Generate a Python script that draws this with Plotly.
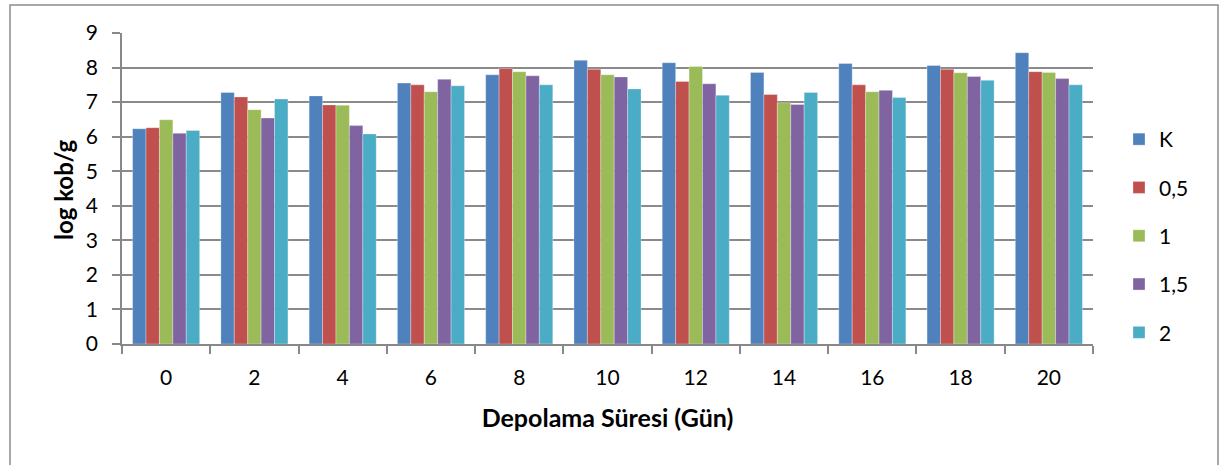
import plotly.graph_objects as go

days = ["0", "2", "4", "6", "8", "10", "12", "14", "16", "18", "20"]
series_names = ["K", "0,5", "1", "1,5", "2"]
K = [6.23, 7.28, 7.18, 7.55, 7.79, 8.21, 8.14, 7.86, 8.12, 8.06, 8.43]
c05 = [6.26, 7.15, 6.92, 7.50, 7.97, 7.95, 7.60, 7.22, 7.50, 7.95, 7.88]
c1 = [6.49, 6.78, 6.91, 7.30, 7.88, 7.79, 8.03, 6.98, 7.30, 7.85, 7.86]
c15 = [6.10, 6.54, 6.32, 7.66, 7.76, 7.73, 7.53, 6.93, 7.34, 7.74, 7.68]
c2 = [6.18, 7.09, 6.08, 7.47, 7.50, 7.38, 7.20, 7.28, 7.13, 7.63, 7.50]
values = [K, c05, c1, c15, c2]
colors = ["#4F81BD", "#C0504D", "#9BBB59", "#8064A2", "#4BACC6"]

FONT = "Lato"

fig = go.Figure()
for name, vals, col in zip(series_names, values, colors):
    fig.add_trace(go.Bar(
        x=days, y=vals, name=name, legendgroup=name,
        marker=dict(color=col, line=dict(color="rgba(255,255,255,0.6)", width=0.5)),
    ))

W, H = 1229, 465
L, R, T, B = 122, 136, 33, 121
pw, ph = W - L - R, H - T - B

def px_x(x):
    return (x - L) / pw

def px_y(y):
    return (H - B - y) / ph

fig.update_layout(
    width=W, height=H,
    margin=dict(l=L, r=R, t=T, b=B),
    paper_bgcolor="white", plot_bgcolor="white",
    barmode="group", bargap=0.24, bargroupgap=0,
    font=dict(family=FONT, size=21, color="#000000"),
    showlegend=True,
    legend=dict(
        x=px_x(1119), y=px_y(236), xanchor="left", yanchor="middle",
        font=dict(family=FONT, size=21, color="#000000"),
        tracegroupgap=18, bgcolor="rgba(0,0,0,0)",
    ),
    xaxis=dict(
        type="category",
        showline=True, linecolor="#888888", linewidth=1.5,
        ticks="outside", ticklen=8, tickcolor="#888888", tickwidth=1.5,
        tickson="boundaries",
        showgrid=False,
        tickfont=dict(family=FONT, size=21),
        ticklabelstandoff=14,
        title=dict(text="<b>Depolama Süresi (Gün)</b>", font=dict(family=FONT, size=25), standoff=22),
    ),
    yaxis=dict(
        range=[0, 9], dtick=1,
        showline=True, linecolor="#888888", linewidth=1.5,
        ticks="outside", ticklen=8, tickcolor="#888888", tickwidth=1.5,
        showgrid=True, gridcolor="#8a8a8a", gridwidth=1.5,
        zeroline=False,
        tickfont=dict(family=FONT, size=21),
        ticklabelstandoff=10,
    ),
    annotations=[dict(
        text="<b>log kob/g</b>", textangle=-90, showarrow=False,
        xref="paper", yref="paper", x=px_x(63), y=px_y(190),
        xanchor="center", yanchor="middle",
        font=dict(family=FONT, size=24, color="#000000"),
    )],
    shapes=[dict(
        type="rect", xref="paper", yref="paper",
        x0=px_x(10), x1=px_x(1218), y0=px_y(480), y1=px_y(5),
        line=dict(color="#8c8c8c", width=1.5), fillcolor="rgba(0,0,0,0)", layer="below",
    )],
)

fig.write_html("out.html")
